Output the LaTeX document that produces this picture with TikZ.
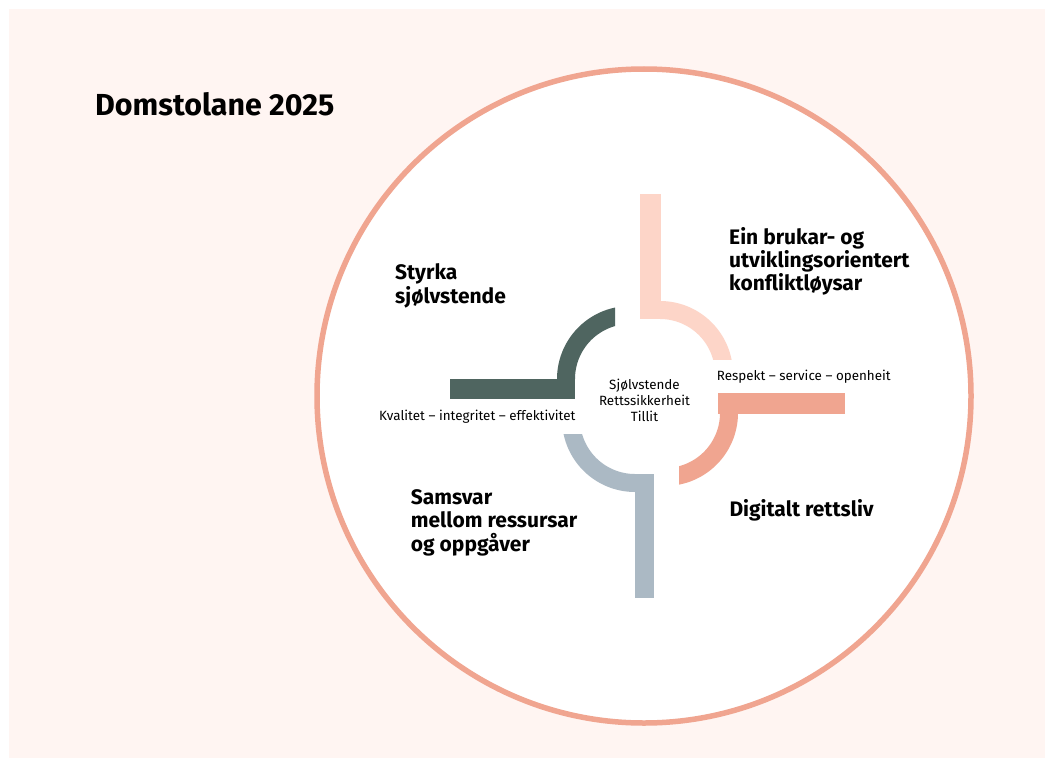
\documentclass[tikz,border=0pt]{standalone}
\usepackage{fontspec}
\setmainfont{Fira Sans}
\definecolor{bgpink}{HTML}{FFF5F2}
\definecolor{ringcol}{HTML}{F0A590}
\definecolor{dkgreen}{HTML}{4F6560}
\definecolor{ltpink}{HTML}{FDD5C8}
\definecolor{salmon}{HTML}{F0A590}
\definecolor{bluegray}{HTML}{ABB9C4}
\newcommand{\qarc}[5]{%
  \fill[#1] plot[domain=#4:#5,samples=50] ({#2+73*cos(\x)},{#3+73*sin(\x)})
    -- plot[domain=#5:#4,samples=50] ({#2+55*cos(\x)},{#3+55*sin(\x)}) -- cycle;}
\begin{document}
\begin{tikzpicture}[x=1pt,y=-1pt,
  big/.style={font=\fontsize{21}{24}\selectfont\bfseries, anchor=base west, inner sep=0pt},
  small/.style={font=\fontsize{13.4}{15}\selectfont, inner sep=0pt},
]
\useasboundingbox (0,0) rectangle (1046,760);
\fill[white] (0,0) rectangle (1046,760);
\fill[bgpink] (9,9) rectangle (1045,758);
\draw[ringcol, line width=5.5pt, fill=white] (644,396) circle[radius=327];
% top-right (light pink)
\begin{scope}
  \clip (560,150) rectangle (800,359);
  \qarc{ltpink}{660}{374}{0}{-90}
\end{scope}
\fill[ltpink] (640,194) rectangle (660.5,319);
% bottom-right (salmon)
\begin{scope}
  \clip (679,380) rectangle (800,520);
  \qarc{salmon}{665}{413}{0}{90}
\end{scope}
\fill[salmon] (718,393) rectangle (845,413.5);
% bottom-left (blue-grey)
\begin{scope}
  \clip (520,434) rectangle (700,560);
  \qarc{bluegray}{635}{419}{180}{90}
\end{scope}
\fill[bluegray] (634.5,474) rectangle (654,598);
% top-left (dark green)
\begin{scope}
  \clip (520,250) rectangle (615,420);
  \qarc{dkgreen}{630}{379}{-90}{-180}
\end{scope}
\fill[dkgreen] (450,378.5) rectangle (575,399);
% texts
\node[big, font=\fontsize{30.4}{32}\selectfont\bfseries] (title) at (95,115) {Domstolane 2025};
\node[big] (st1) at (395,279.3) {Styrka};
\node[big] (st2) at (395,303) {sjølvstende};
\node[big] (br1) at (729,244.3) {Ein brukar- og};
\node[big] (br2) at (729,267.5) {utviklingsorientert};
\node[big] (br3) at (729,290.5) {konfliktløysar};
\node[big] (sa1) at (410.7,504) {Samsvar};
\node[big] (sa2) at (410.7,527.5) {mellom ressursar};
\node[big] (sa3) at (410.7,551) {og oppgåver};
\node[big] (dig) at (729.3,516.7) {Digitalt rettsliv};
\node[small, anchor=base west] (resp) at (716.7,380.7) {Respekt – service – openheit};
\node[small, anchor=base west] (kval) at (379,420) {Kvalitet – integritet – effektivitet};
\node[small, anchor=base] (c1) at (644.5,389.3) {Sjølvstende};
\node[small, anchor=base] (c2) at (644.5,405) {Rettssikkerheit};
\node[small, anchor=base] (c3) at (644.5,421) {Tillit};
\end{tikzpicture}
\end{document}
